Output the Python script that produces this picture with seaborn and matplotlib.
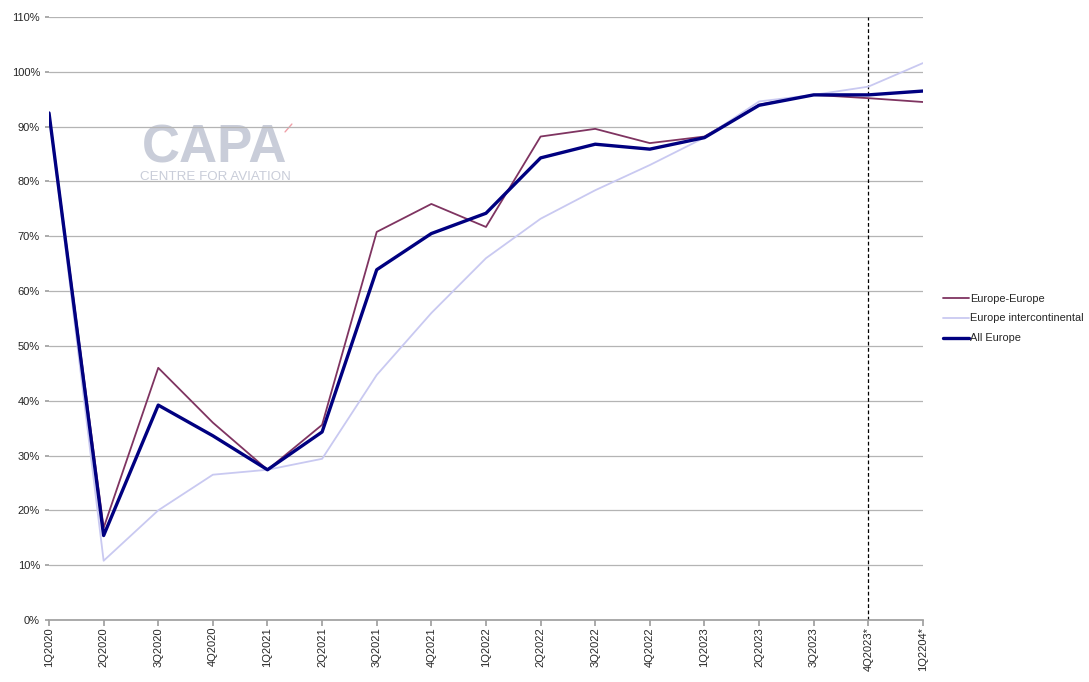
import pandas as pd
import matplotlib
matplotlib.use("Agg")
import matplotlib.pyplot as plt
import seaborn as sns
from matplotlib.ticker import PercentFormatter, MultipleLocator

quarters = ["1Q2020", "2Q2020", "3Q2020", "4Q2020", "1Q2021", "2Q2021", "3Q2021",
            "4Q2021", "1Q2022", "2Q2022", "3Q2022", "4Q2022", "1Q2023", "2Q2023",
            "3Q2023", "4Q2023*", "1Q2204*"]

europe_europe = [92.5, 16.8, 46.0, 36.0, 27.4, 35.6, 70.8, 75.9, 71.7, 88.2, 89.6,
                 87.0, 88.2, 94.0, 95.8, 95.2, 94.5]
europe_intercontinental = [92.5, 10.8, 20.0, 26.5, 27.4, 29.4, 44.7, 56.0, 66.0, 73.2,
                           78.4, 83.0, 88.0, 94.6, 95.8, 97.3, 101.6]
all_europe = [92.5, 15.4, 39.2, 33.6, 27.4, 34.3, 63.9, 70.5, 74.2, 84.3, 86.8, 85.9,
              88.0, 93.9, 95.8, 95.8, 96.5]

series_names = ["Europe-Europe", "Europe intercontinental", "All Europe"]
forecast_start = "4Q2023*"

df = pd.DataFrame({
    "idx": range(len(quarters)),
    "Europe-Europe": europe_europe,
    "Europe intercontinental": europe_intercontinental,
    "All Europe": all_europe,
})
long_df = df.melt(id_vars="idx", var_name="series", value_name="share")

sns.set_theme(style="white")
plt.rcParams['font.family'] = ['Liberation Sans', 'DejaVu Sans']

fig = plt.figure(figsize=(10.89, 6.82), dpi=100)
ax = fig.add_axes([0.045, 0.091, 0.8025, 0.884])

# CAPA watermark
ax.text(0.189, 0.7595, "CAPA", transform=ax.transAxes, fontsize=38, fontweight="bold",
        color="#c9cdd9", ha="center", va="baseline", zorder=0)
ax.text(0.190, 0.7297, "CENTRE FOR AVIATION", transform=ax.transAxes, fontsize=9.6,
        color="#c9cdd9", ha="center", va="baseline", zorder=0)
ax.annotate("", xy=(0.28, 0.826), xytext=(0.268, 0.806), xycoords="axes fraction",
            arrowprops=dict(arrowstyle="-", color="#f0a0a8", lw=1.0), zorder=0)

palette = {"Europe-Europe": "#7f3461",
           "Europe intercontinental": "#c9c9f1",
           "All Europe": "#000080"}
sizes = {"Europe-Europe": 1.3, "Europe intercontinental": 1.3, "All Europe": 2.4}

sns.lineplot(data=long_df, x="idx", y="share", hue="series", size="series",
             hue_order=series_names, size_order=series_names, palette=palette,
             sizes=sizes, ax=ax, zorder=3)

ax.axvline(quarters.index(forecast_start), color="black", linestyle=(0, (3, 2)),
           linewidth=0.9, zorder=2)

ax.set_xlim(0, len(quarters) - 1)
ax.set_ylim(0, 110)
ax.yaxis.set_major_locator(MultipleLocator(10))
ax.yaxis.set_major_formatter(PercentFormatter(decimals=0))
ax.set_xticks(range(len(quarters)))
ax.set_xticklabels(quarters, rotation=90, fontsize=8)
ax.tick_params(axis="y", labelsize=8, length=3, color="#a0a0a0", left=True)
ax.tick_params(axis="x", length=4, color="#a0a0a0", bottom=True, pad=1)
ax.set_xlabel("")
ax.set_ylabel("")
ax.grid(axis="y", color="#b4b4b4", linewidth=0.9)
ax.set_axisbelow(True)
for s in ["top", "right", "left"]:
    ax.spines[s].set_visible(False)
ax.spines["bottom"].set_color("#a0a0a0")

handles, labels = ax.get_legend_handles_labels()
ax.legend(handles, labels, loc="center left", bbox_to_anchor=(1.021, 0.50),
          borderaxespad=0, borderpad=0.2, frameon=False, fontsize=7.9,
          handlelength=2.3, handletextpad=0.15, labelspacing=0.9)

fig.savefig("out.png", dpi=100)
